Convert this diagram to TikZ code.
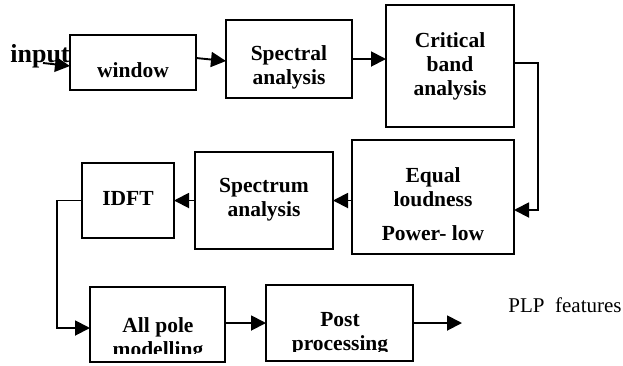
\documentclass[tikz,border=0pt]{standalone}
\usepackage{fontspec}
\setmainfont{Liberation Serif}
\usetikzlibrary{arrows.meta}
\begin{document}
\begin{tikzpicture}[x=1pt,y=-1pt,
  blk/.style={draw, line width=2pt, inner sep=0pt, outer sep=0pt},
  lbl/.style={font=\fontsize{21.5}{24}\selectfont\bfseries, align=center, inner sep=0pt},
  arr/.style={line width=1.9pt, -{Triangle[length=15pt,width=15pt]}},
  wire/.style={line width=1.9pt}]
\useasboundingbox (0,0) rectangle (623,365);

% processing blocks
\node[blk, minimum width=126pt, minimum height=55pt]  (win)  at (133,62.5)  {};
\node[blk, minimum width=126pt, minimum height=78pt]  (spec) at (289,59)    {};
\node[blk, minimum width=128pt, minimum height=122pt] (crit) at (450,66)    {};
\node[blk, minimum width=162pt, minimum height=114pt] (eql)  at (433,197)   {};
\node[blk, minimum width=138pt, minimum height=97pt]  (spm)  at (264,200.5) {};
\node[blk, minimum width=92pt,  minimum height=75pt]  (idft) at (128,200.5) {};
\node[blk, minimum width=135pt, minimum height=75pt]  (apm)  at (157.5,324.5) {};
\node[blk, minimum width=147pt, minimum height=76pt]  (post) at (339.5,323) {};

% block captions
\node[lbl] (win-l)  at (133,70)  {window};
\node[lbl] (spec-l) at (289,67.5) {Spectral\\analysis};
\node[lbl] (crit-l) at (450,66)  {Critical\\band\\analysis};
\node[lbl] (eql-l)  at (433,204) {Equal\\loudness\\[10pt]Power- low};
\node[lbl] (spm-l)  at (264,200) {Spectrum\\analysis};
\node[lbl] (idft-l) at (128,198) {IDFT};
\begin{scope}
  \clip (90,287) rectangle (225,353);
  \node[lbl] (apm-l) at (158,339) {All pole\\modelling};
\end{scope}
\begin{scope}
  \clip (266,285) rectangle (413,351);
  \node[lbl] (post-l) at (340,334) {Post\\processing};
\end{scope}

% input and output labels
\node[font=\fontsize{26}{30}\selectfont\bfseries, inner sep=0pt] (inp) at (40,56) {input};
\node[font=\fontsize{21}{24}\selectfont, inner sep=0pt] (plp) at (565,305) {PLP\ \ features};

% signal flow
\coordinate (in-s) at (43,63);
\coordinate (out-e) at (462,323);
\draw[arr] (in-s) -- ([yshift=-3.5pt]win.west);
\draw[arr] ([yshift=4.5pt]win.east) -- ([yshift=-2pt]spec.west);
\draw[arr] (spec.east) -- (spec.east -| crit.west);
\draw[arr] ([yshift=3pt]crit.east) -- ++(24,0) |- ([yshift=-13pt]eql.east);
\draw[arr] (eql.west |- spm.east) -- (spm.east);
\draw[arr] (spm.west) -- (spm.west -| idft.east);
\draw[arr] (idft.west) -- ++(-25,0) |- ([yshift=-3.5pt]apm.west);
\draw[arr] ([yshift=1.5pt]apm.east) -- ([yshift=1.5pt]apm.east -| post.west);
\draw[arr] (post.east) -- (out-e);
\end{tikzpicture}
\end{document}
